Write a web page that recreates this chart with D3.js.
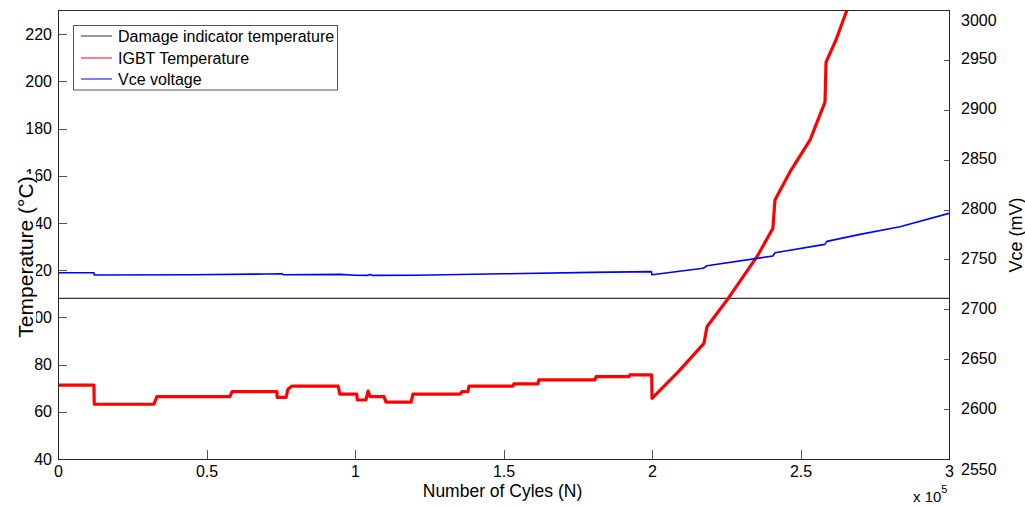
<!DOCTYPE html>
<html>
<head>
<meta charset="utf-8">
<script src="https://cdn.jsdelivr.net/npm/d3@7"></script>
<style>
  html, body { margin: 0; padding: 0; background: #fff; }
  svg { display: block; font-family: "Liberation Sans", Arial, sans-serif; }
</style>
</head>
<body>
<svg id="chart" width="1025" height="506"></svg>
<script>
// ---- data ----
const cycleTicks = [0, 50000, 100000, 150000, 200000, 250000, 300000];
const tempTicks = [40, 60, 80, 100, 120, 140, 160, 180, 200, 220];
const vceTicks = [2550, 2600, 2650, 2700, 2750, 2800, 2850, 2900, 2950, 3000];

// IGBT junction temperature (°C) against number of cycles
const igbtCycles = [
  0, 12100, 12200, 32300, 33300, 57900, 58600, 73700, 73800, 76800,
  77400, 78800, 94300, 94900, 100600, 100800, 103700, 104400, 105100, 109800,
  110400, 118900, 119500, 135400, 136000, 138000, 138400, 153200, 153500, 161600,
  161900, 180800, 181200, 192300, 192500, 199900, 200000, 208750, 217500, 218500,
  225600, 235350, 240700, 241400, 246450, 253200, 258250, 258600, 261950, 265650,
  267350
];
const igbtTemp = [
  71.3, 71.3, 63.2, 63.2, 66.4, 66.4, 68.5, 68.5, 66.1, 66.1,
  69.5, 70.9, 70.9, 67.5, 67.5, 65.0, 65.0, 68.8, 66.4, 66.4,
  64.1, 64.1, 67.5, 67.5, 68.5, 68.5, 70.9, 70.9, 71.8, 71.8,
  73.5, 73.5, 74.9, 74.9, 75.6, 75.6, 65.7, 76.8, 89.0, 96.0,
  107.9, 125.7, 137.7, 149.7, 161.6, 175.1, 191.2, 208.1, 217.5, 230.2,
  236.5
];

// collector-emitter voltage (mV) against number of cycles
const vceCycles = [
  0, 12100, 12200, 45000, 70000, 75500, 76000, 95000, 100000, 104000,
  105000, 106000, 120000, 150000, 180000, 199800, 200000, 217200, 218500, 240700,
  241400, 258200, 258900, 270000, 283500, 300000
];
const vceValues = [
  2736.7, 2736.7, 2734.4, 2734.6, 2735.4, 2735.6, 2734.6, 2735.0, 2734.2, 2734.0,
  2735.0, 2734.0, 2734.2, 2735.6, 2737.0, 2737.8, 2734.6, 2741.1, 2743.7, 2753.4,
  2756.7, 2765.1, 2768.1, 2775.1, 2782.8, 2796.2
];

// damage indicator threshold temperature (°C)
const damageCycles = [0, 300000];
const damageTemp = [108, 108];

const legendLabels = ["Damage indicator temperature", "IGBT Temperature", "Vce voltage"];
const seriesColors = ["#333333", "#ff0000", "#0000ff"];

// ---- layout ----
const W = 1025, H = 506;
const m = { left: 58, right: 76, top: 10, bottom: 47 };
const pw = W - m.left - m.right, ph = H - m.top - m.bottom;

const svg = d3.select("#chart");

const x = d3.scaleLinear().domain([0, 300000]).range([m.left, m.left + pw]);
const yT = d3.scaleLinear().domain([40, 230.2]).range([m.top + ph, m.top]);
const yV = d3.scaleLinear().domain([2550, 3000]).range([m.top + ph, m.top]);

svg.append("defs").append("clipPath").attr("id", "plotClip")
  .append("rect").attr("x", m.left).attr("y", m.top).attr("width", pw).attr("height", ph);

const plot = svg.append("g").attr("clip-path", "url(#plotClip)");

const lineT = d3.line().x(d => x(d[0])).y(d => yT(d[1]));
const lineV = d3.line().x(d => x(d[0])).y(d => yV(d[1]));

plot.append("path")
  .datum(damageCycles.map((c, i) => [c, damageTemp[i]]))
  .attr("d", lineT).attr("fill", "none")
  .attr("stroke", seriesColors[0]).attr("stroke-width", 1.3);

plot.append("path")
  .datum(igbtCycles.map((c, i) => [c, igbtTemp[i]]))
  .attr("d", lineT).attr("fill", "none")
  .attr("stroke", seriesColors[1]).attr("stroke-width", 3.2)
  .attr("stroke-linejoin", "round");

plot.append("path")
  .datum(vceCycles.map((c, i) => [c, vceValues[i]]))
  .attr("d", lineV).attr("fill", "none")
  .attr("stroke", seriesColors[2]).attr("stroke-width", 1.6)
  .attr("stroke-linejoin", "round");

// ---- axes ----
function styleAxis(g) {
  g.select(".domain").remove();
  g.selectAll(".tick line").attr("stroke", "#555").attr("shape-rendering", "crispEdges");
  g.selectAll(".tick text").attr("fill", "#000").style("font-size", "16px")
    .style("font-family", "'Liberation Sans', Arial, sans-serif");
}

svg.append("g")
  .attr("transform", `translate(0,${m.top + ph})`)
  .call(d3.axisBottom(x).tickValues(cycleTicks).tickSize(-9).tickPadding(7)
    .tickFormat(d => d3.format("~g")(d / 1e5)))
  .call(styleAxis);

svg.append("g")
  .attr("transform", `translate(${m.left},0)`)
  .call(d3.axisLeft(yT).tickValues(tempTicks).tickSize(-9).tickPadding(6)
    .tickFormat(d3.format("d")))
  .call(styleAxis);

const rightAxis = svg.append("g")
  .attr("transform", `translate(${m.left + pw},0)`)
  .call(d3.axisRight(yV).tickValues(vceTicks).tickSize(-5).tickPadding(12)
    .tickFormat(d3.format("d")))
  .call(styleAxis);
rightAxis.selectAll(".tick text")
  .attr("dy", d => (d === 2550 || d === 3000) ? "0.95em" : "0.25em");

// axes box
svg.append("rect")
  .attr("x", m.left).attr("y", m.top).attr("width", pw).attr("height", ph)
  .attr("fill", "none").attr("stroke", "#262626").attr("stroke-width", 1)
  .attr("shape-rendering", "crispEdges");

// exponent note under the x axis
const expo = svg.append("text").attr("x", 913).attr("y", 501.5)
  .style("font-size", "15px").attr("fill", "#000");
expo.append("tspan").text("x 10");
expo.append("tspan").attr("dy", -9).style("font-size", "11px").text("5");

// axis titles
svg.append("text")
  .attr("x", x(150000) - 1).attr("y", 497)
  .attr("text-anchor", "middle").style("font-size", "17.5px").attr("fill", "#000")
  .text("Number of Cyles (N)");

// the left title sits on a white backing box
svg.append("rect").attr("x", 0).attr("y", 174).attr("width", 36).attr("height", 171).attr("fill", "#fff");
svg.append("text")
  .attr("transform", "translate(25,257) rotate(-90)")
  .attr("text-anchor", "middle").attr("dominant-baseline", "central")
  .style("font-size", "21px").attr("fill", "#000")
  .text("Temperature (°C)");

svg.append("text")
  .attr("transform", "translate(1016,235) rotate(-90)")
  .attr("text-anchor", "middle").attr("dominant-baseline", "central")
  .style("font-size", "18px").attr("fill", "#000")
  .text("Vce (mV)");

// ---- legend ----
const lg = svg.append("g");
lg.append("rect").attr("x", 73.5).attr("y", 25.5).attr("width", 264).attr("height", 64.5)
  .attr("fill", "#fff").attr("stroke", "#555").attr("stroke-width", 1);
const rowY = [36, 58, 79];
legendLabels.forEach((lab, i) => {
  lg.append("line").attr("x1", 81).attr("x2", 112).attr("y1", rowY[i]).attr("y2", rowY[i])
    .attr("stroke", seriesColors[i]).attr("stroke-width", 1);
  lg.append("text").attr("x", 118).attr("y", rowY[i]).attr("dy", "0.35em")
    .style("font-size", "16px").attr("fill", "#000").text(lab);
});
</script>
</body>
</html>
